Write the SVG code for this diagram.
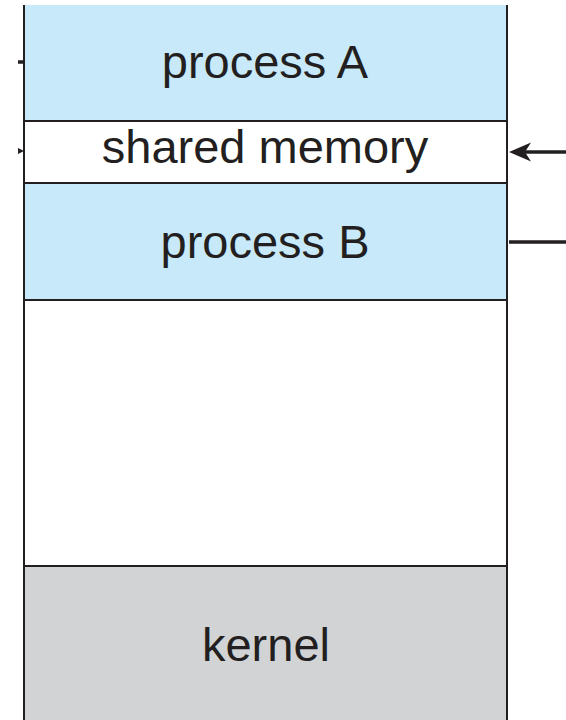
<svg xmlns="http://www.w3.org/2000/svg" width="566" height="720" viewBox="0 0 566 720">
  <style>
    .seg { stroke: #231f20; stroke-width: 2; }
    .lbl { font-family: "Liberation Sans", Arial, sans-serif; font-size: 47px; fill: #231f20; text-anchor: middle; }
    .conn { stroke: #231f20; stroke-width: 3.5; fill: none; }
  </style>
  <rect width="566" height="720" fill="#ffffff"/>

  <g id="process-a">
    <rect x="24" y="5" width="483" height="116" fill="#c7e9f9"/>
    <text class="lbl" x="265" y="78">process A</text>
  </g>
  <g id="shared-memory">
    <rect x="24" y="121" width="483" height="62" fill="#ffffff"/>
    <text class="lbl" x="265" y="163">shared memory</text>
  </g>
  <g id="process-b">
    <rect x="24" y="183" width="483" height="117" fill="#c7e9f9"/>
    <text class="lbl" x="265" y="258">process B</text>
  </g>
  <g id="free-space">
    <rect x="24" y="300" width="483" height="266" fill="#ffffff"/>
  </g>
  <g id="kernel">
    <rect x="24" y="566" width="483" height="160" fill="#d1d3d5"/>
    <text class="lbl" x="266" y="661">kernel</text>
  </g>

  <!-- memory column outline and partitions -->
  <g id="outline">
    <line class="seg" x1="24" y1="5" x2="24" y2="720" stroke-width="3"/>
    <line class="seg" x1="507" y1="5" x2="507" y2="720" stroke-width="3"/>
    <line class="seg" x1="24" y1="121" x2="507" y2="121"/>
    <line class="seg" x1="24" y1="183" x2="507" y2="183"/>
    <line class="seg" x1="24" y1="300" x2="507" y2="300"/>
    <line class="seg" x1="24" y1="566" x2="507" y2="566"/>
  </g>

  <g id="connectors">
    <line class="conn" x1="18" y1="62" x2="24" y2="62"/>
    <path d="M18,148 L24,151 L18,154 Z" fill="#231f20"/>
    <line class="conn" x1="566" y1="152" x2="522" y2="152" stroke-width="3"/>
    <path d="M509,152 L531,142.5 L525,152 L531,161.5 Z" fill="#231f20"/>
    <line class="conn" x1="509" y1="242" x2="566" y2="242" stroke-width="4"/>
  </g>
</svg>
